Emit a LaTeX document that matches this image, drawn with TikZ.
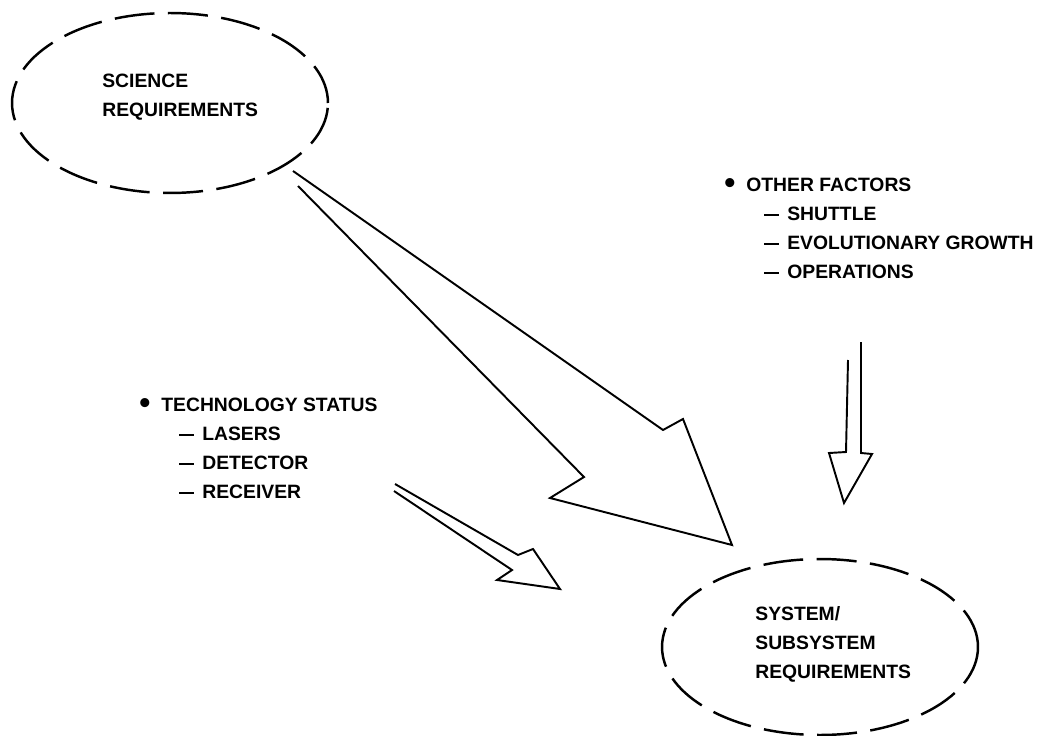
\documentclass[tikz,border=0pt]{standalone}
\usepackage{fontspec}
\setmainfont{Liberation Sans}
\usetikzlibrary{shapes.geometric,positioning}

\newcommand{\bulletitem}[1]{\makebox[0.44cm][l]{\raisebox{-1.2pt}{\fontsize{18}{18}\selectfont\textbullet}}#1}
\newcommand{\dashitem}[1]{\hspace*{0.8cm}\makebox[0.46cm][l]{\rule[2.7pt]{8.5pt}{1.1pt}}#1}

\begin{document}
\begin{tikzpicture}[x=0.02cm, y=-0.02cm,
  reqellipse/.style = {draw, ellipse, line width=1.4pt, dash pattern=on 0.8cm off 0.27cm,
                       minimum width=6.32cm, minimum height=3.6cm, inner sep=0},
  lbl/.style = {font=\fontsize{11}{16.5}\selectfont\bfseries, align=left, inner sep=0, anchor=north west},
  hollow/.style = {line width=1.1pt, line join=miter}]
 \useasboundingbox (0,0) rectangle (1040,736);

 \node[reqellipse] (sci) at (170,103) {};
 \node[reqellipse, minimum height=3.52cm] (sys) at (820,647) {};
 \node[lbl] (scitxt) at (102,74) {SCIENCE\\REQUIREMENTS};
 \node[lbl] (systxt) at (755,606) {SYSTEM/\\SUBSYSTEM\\REQUIREMENTS};

 \node[lbl] (tech) at (139,398) {\bulletitem{TECHNOLOGY STATUS}\\
   \dashitem{LASERS}\\ \dashitem{DETECTOR}\\ \dashitem{RECEIVER}};
 \node[lbl] (other) at (724,178) {\bulletitem{OTHER FACTORS}\\
   \dashitem{SHUTTLE}\\ \dashitem{EVOLUTIONARY GROWTH}\\ \dashitem{OPERATIONS}};

 \draw[hollow] (293,171) -- (663,430) -- (683,419) -- (732,545) -- (550,498) -- (584,477) -- (298,186);
 \draw[hollow] (395,484) -- (518,555) -- (533,549) -- (560,589) -- (497,580) -- (512,570) -- (394,491);
 \draw[hollow] (861,342) -- (861,453) -- (872,454) -- (844,503) -- (829,453) -- (846,452) -- (848,360);
\end{tikzpicture}
\end{document}
